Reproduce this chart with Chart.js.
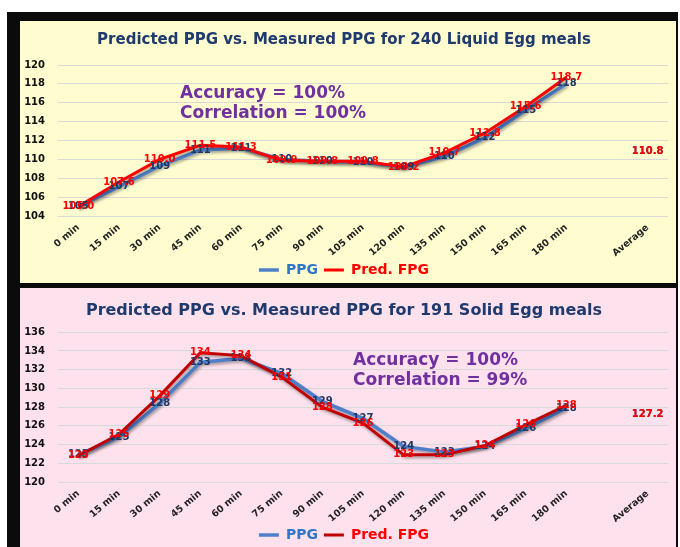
<!DOCTYPE html>
<html>
<head>
<meta charset="utf-8">
<script src="https://cdn.jsdelivr.net/npm/chart.js@4"></script>
<style>
  body { margin: 0; background: #fff; width: 680px; height: 547px; overflow: hidden; position: relative; font-family: "DejaVu Sans", sans-serif; }
  #frame { position: absolute; left: 7px; top: 12px; width: 671px; height: 535px; background: #0b0b0b; }
  .panel { position: absolute; left: 20px; width: 656px; }
  #p1 { top: 21px; height: 262px; background: #FFFDD0; }
  #p2 { top: 288px; height: 259px; background: #FDE1EC; }
  .panel canvas { position: absolute; left: 0; top: 0; }
  .note { position: absolute; color: #7030A0; font-weight: bold; font-size: 17px; line-height: 20px; white-space: nowrap; }
</style>
</head>
<body>
<div id="frame"></div>
<div class="panel" id="p1">
  <canvas id="liquid" width="656" height="262"></canvas>
  <div class="note" style="left:160px; top:61px">Accuracy = 100%<br>Correlation = 100%</div>
</div>
<div class="panel" id="p2">
  <canvas id="solid" width="656" height="259"></canvas>
  <div class="note" style="left:333px; top:61px">Accuracy = 100%<br>Correlation = 99%</div>
</div>
<script>
// catégories (une case vide avant la moyenne)
const timeLabels = ["0 min", "15 min", "30 min", "45 min", "60 min", "75 min", "90 min",
  "105 min", "120 min", "135 min", "150 min", "165 min", "180 min", "", "Average"];

// 240 repas oeuf liquide
const liquidPPG  = [105.0, 107.1, 109.3, 111.0, 111.2, 110.0, 109.8, 109.7, 109.2, 110.3, 112.3, 115.2, 118.0, null, 110.8];
const liquidPred = [105.0, 107.6, 110.0, 111.5, 111.3, 109.9, 109.8, 109.8, 109.2, 110.7, 112.8, 115.6, 118.7, null, 110.8];
const liquidTicks = [104, 120];

// 191 repas oeuf solide
const solidPPG  = [122.9, 124.8, 128.4, 132.8, 133.2, 131.6, 128.6, 126.8, 123.8, 123.2, 123.8, 125.7, 127.9, null, 127.2];
const solidPred = [122.8, 125.1, 129.2, 133.8, 133.5, 131.2, 128.0, 126.3, 122.9, 122.9, 123.9, 126.1, 128.2, null, 127.2];
const solidTicks = [120, 136];

const FONT = '"DejaVu Sans", sans-serif';

// ombre sous les courbes
const lineShadow = {
  id: "lineShadow",
  beforeDatasetDraw(chart) {
    const c = chart.ctx;
    c.save();
    c.shadowColor = "rgba(0,0,0,0.35)";
    c.shadowBlur = 3;
    c.shadowOffsetX = 1;
    c.shadowOffsetY = 2;
  },
  afterDatasetDraw(chart) { chart.ctx.restore(); },
};

// étiquettes de valeur centrées sur les points
const valueLabels = {
  id: "valueLabels",
  afterDatasetsDraw(chart) {
    const ctx = chart.ctx;
    const last = chart.data.labels.length - 1;
    ctx.save();
    ctx.font = "bold 10px " + FONT;
    ctx.textAlign = "center";
    ctx.textBaseline = "middle";
    chart.data.datasets.forEach((ds, di) => {
      const meta = chart.getDatasetMeta(di);
      meta.data.forEach((pt, i) => {
        const v = ds.data[i];
        if (v == null) return;
        ctx.fillStyle = ds.labelColor;
        ctx.fillText(i === last ? v.toFixed(1) : v.toFixed(ds.labelDigits), pt.x, pt.y);
      });
    });
    ctx.restore();
  },
};

function makeChart(id, o) {
  const ctx = document.getElementById(id).getContext("2d");
  return new Chart(ctx, {
    type: "line",
    data: {
      labels: timeLabels,
      datasets: [
        {
          label: "PPG",
          data: o.ppg,
          borderColor: "#4F7FCB",
          borderWidth: 3.5,
          pointRadius: 0,
          tension: 0,
          order: 1,
          labelColor: "#1F3864",
          labelDigits: 0,
          legendColor: "#2F75C8",
        },
        {
          label: "Pred. FPG",
          data: o.pred,
          borderColor: o.redLine,
          borderWidth: 3,
          pointRadius: 0,
          tension: 0,
          order: 0,
          labelColor: "#FF0000",
          labelDigits: o.predDigits,
          legendColor: "#FF0000",
        },
      ],
    },
    options: {
      responsive: false,
      animation: false,
      layout: { padding: { left: 0, right: 8, top: 0, bottom: 0 } },
      plugins: {
        title: {
          display: true,
          text: o.title,
          color: "#1F3A6E",
          font: { family: FONT, size: o.titleSize, weight: "bold" },
          padding: o.titlePad,
        },
        legend: {
          position: "bottom",
          maxHeight: o.legendHeight,
          labels: {
            usePointStyle: true,
            pointStyle: "line",
            pointStyleWidth: 20,
            padding: 6,
            font: { family: FONT, size: 14, weight: "bold" },
            sort: (a, b) => a.datasetIndex - b.datasetIndex,
            generateLabels(chart) {
              const items = Chart.defaults.plugins.legend.labels.generateLabels(chart);
              items.forEach((it) => (it.fontColor = chart.data.datasets[it.datasetIndex].legendColor));
              return items;
            },
          },
        },
        tooltip: { enabled: false },
      },
      scales: {
        x: {
          offset: true,
          grid: { display: false, drawTicks: false },
          border: { display: false },
          ticks: {
            autoSkip: false,
            maxRotation: 40,
            minRotation: 40,
            padding: 6,
            color: "#222",
            font: { family: FONT, size: 9.5, weight: "bold" },
          },
          afterFit: (s) => { s.height = o.xHeight; },
        },
        y: {
          min: o.ticks[0],
          max: o.ticks[1],
          grid: { color: "#D9D9D9", drawTicks: false },
          border: { display: false },
          ticks: {
            stepSize: 2,
            padding: 13,
            color: "#111",
            font: { family: FONT, size: 10, weight: "bold" },
          },
          afterFit: (s) => { s.width = 38; },
        },
      },
    },
    plugins: [lineShadow, valueLabels],
  });
}

makeChart("liquid", {
  title: "Predicted PPG vs. Measured PPG for 240 Liquid Egg meals",
  titleSize: 15,
  titlePad: { top: 10, bottom: 16 },
  ppg: liquidPPG,
  pred: liquidPred,
  redLine: "#FF0000",
  predDigits: 1,
  ticks: liquidTicks,
  legendHeight: 26,
  xHeight: 41,
});

makeChart("solid", {
  title: "Predicted PPG vs. Measured PPG for 191 Solid Egg meals",
  titleSize: 16,
  titlePad: { top: 13, bottom: 12 },
  ppg: solidPPG,
  pred: solidPred,
  redLine: "#C00000",
  predDigits: 0,
  ticks: solidTicks,
  legendHeight: 25,
  xHeight: 40,
});
</script>
</body>
</html>
